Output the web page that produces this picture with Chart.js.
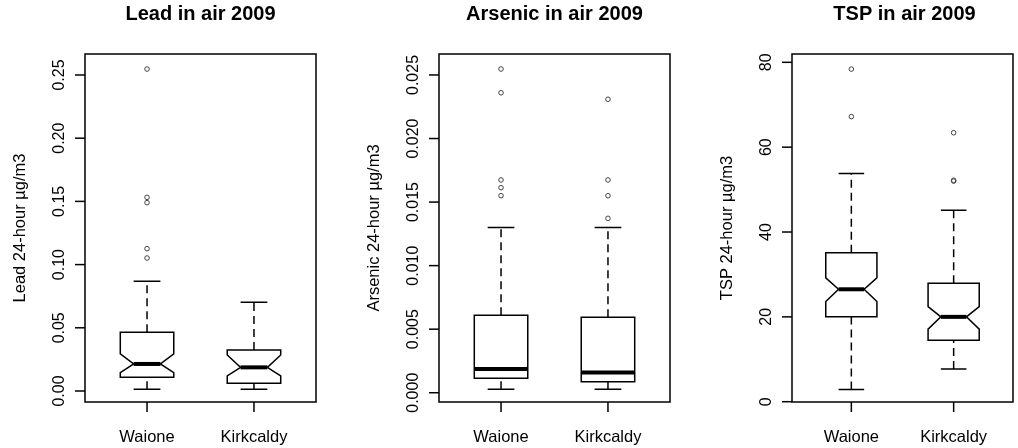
<!DOCTYPE html>
<html>
<head>
<meta charset="utf-8">
<script src="https://cdn.jsdelivr.net/npm/chart.js@4.4.0/dist/chart.umd.min.js"></script>
<style>
  body { margin: 0; background: #fff; width: 1018px; height: 448px; overflow: hidden; position: relative; }
  canvas { position: absolute; top: 0; }
</style>
</head>
<body>
<canvas id="lead" width="340" height="448" style="left:0"></canvas>
<canvas id="arsenic" width="340" height="448" style="left:340px"></canvas>
<canvas id="tsp" width="338" height="448" style="left:680px"></canvas>
<script>
const sites = ['Waione', 'Kirkcaldy'];

// Lead (µg/m3)
const leadLow = [0.0013, 0.0013];
const leadQ1 = [0.0108, 0.0061];
const leadMedian = [0.0214, 0.0187];
const leadQ3 = [0.0464, 0.0324];
const leadHigh = [0.0868, 0.0702];
const leadNotchLow = [0.0145, 0.012];
const leadNotchHigh = [0.0293, 0.0285];
const leadOutWaione = [0.1052, 0.1126, 0.149, 0.1532, 0.2547];
const leadOutKirkcaldy = [];
const leadTicks = [0, 0.05, 0.10, 0.15, 0.20, 0.25];
const leadTickLabels = ['0.00', '0.05', '0.10', '0.15', '0.20', '0.25'];

// Arsenic (µg/m3)
const arsLow = [0.00027, 0.00027];
const arsQ1 = [0.00113, 0.00087];
const arsMedian = [0.00187, 0.0016];
const arsQ3 = [0.0061, 0.00593];
const arsHigh = [0.013, 0.013];
const arsOutWaione = [0.0155, 0.01613, 0.01674, 0.0236, 0.02547];
const arsOutKirkcaldy = [0.01372, 0.0155, 0.01674, 0.02309];
const arsTicks = [0, 0.005, 0.010, 0.015, 0.020, 0.025];
const arsTickLabels = ['0.000', '0.005', '0.010', '0.015', '0.020', '0.025'];

// TSP (µg/m3)
const tspLow = [2.9, 7.7];
const tspQ1 = [20.0, 14.5];
const tspMedian = [26.5, 20.0];
const tspQ3 = [35.1, 27.9];
const tspHigh = [53.8, 45.1];
const tspNotchLow = [23.6, 17.1];
const tspNotchHigh = [29.2, 22.4];
const tspOutWaione = [67.2, 78.4];
const tspOutKirkcaldy = [52.0, 52.2, 63.4];
const tspTicks = [0, 20, 40, 60, 80];
const tspTickLabels = ['0', '20', '40', '60', '80'];

const FONT = '"Liberation Sans", Arial, sans-serif';
const BOX_HALF = 0.25;

const rBoxPlugin = {
  id: 'rBox',
  beforeDatasetsDraw(chart, args, opts) {
    const ctx = chart.ctx, xs = chart.scales.x, ys = chart.scales.y;
    const py = v => ys.getPixelForValue(v);
    ctx.save();
    ctx.strokeStyle = '#000';
    ctx.lineJoin = 'miter';
    sites.forEach((name, i) => {
      const cx = xs.getPixelForValue(i + 1);
      const hw = xs.getPixelForValue(i + 1 + BOX_HALF) - cx;
      // whiskers
      ctx.lineWidth = 1.5;
      ctx.setLineDash([8, 5]);
      ctx.beginPath();
      ctx.moveTo(cx, py(opts.low[i])); ctx.lineTo(cx, py(opts.q1[i]));
      ctx.moveTo(cx, py(opts.q3[i])); ctx.lineTo(cx, py(opts.high[i]));
      ctx.stroke();
      ctx.setLineDash([]);
      // staples
      ctx.beginPath();
      ctx.moveTo(cx - hw / 2, py(opts.low[i])); ctx.lineTo(cx + hw / 2, py(opts.low[i]));
      ctx.moveTo(cx - hw / 2, py(opts.high[i])); ctx.lineTo(cx + hw / 2, py(opts.high[i]));
      ctx.stroke();
      // box
      ctx.beginPath();
      if (opts.notchLow) {
        ctx.moveTo(cx - hw, py(opts.q1[i]));
        ctx.lineTo(cx - hw, py(opts.notchLow[i]));
        ctx.lineTo(cx - hw / 2, py(opts.median[i]));
        ctx.lineTo(cx - hw, py(opts.notchHigh[i]));
        ctx.lineTo(cx - hw, py(opts.q3[i]));
        ctx.lineTo(cx + hw, py(opts.q3[i]));
        ctx.lineTo(cx + hw, py(opts.notchHigh[i]));
        ctx.lineTo(cx + hw / 2, py(opts.median[i]));
        ctx.lineTo(cx + hw, py(opts.notchLow[i]));
        ctx.lineTo(cx + hw, py(opts.q1[i]));
        ctx.closePath();
      } else {
        ctx.rect(cx - hw, py(opts.q3[i]), 2 * hw, py(opts.q1[i]) - py(opts.q3[i]));
      }
      ctx.fillStyle = '#fff';
      ctx.fill();
      ctx.stroke();
      // median
      const mw = opts.notchLow ? hw / 2 : hw;
      ctx.lineWidth = 4;
      ctx.beginPath();
      ctx.moveTo(cx - mw, py(opts.median[i]));
      ctx.lineTo(cx + mw, py(opts.median[i]));
      ctx.stroke();
    });
    ctx.restore();
  },
  afterDraw(chart, args, opts) {
    const ctx = chart.ctx, xs = chart.scales.x, ys = chart.scales.y;
    const a = chart.chartArea;
    ctx.save();
    ctx.strokeStyle = '#000';
    ctx.fillStyle = '#000';
    ctx.lineWidth = 1.5;
    ctx.strokeRect(a.left, a.top, a.right - a.left, a.bottom - a.top);

    // y axis ticks and labels
    ctx.font = '16px ' + FONT;
    ctx.textAlign = 'center';
    ctx.textBaseline = 'middle';
    ys.ticks.forEach((t, k) => {
      const y = ys.getPixelForValue(t.value);
      ctx.beginPath();
      ctx.moveTo(a.left - 10, y); ctx.lineTo(a.left, y);
      ctx.stroke();
      ctx.save();
      ctx.translate(a.left - 25, y);
      ctx.rotate(-Math.PI / 2);
      ctx.fillText(opts.tickLabels[k], 0, 0);
      ctx.restore();
    });

    // y axis title
    ctx.save();
    ctx.font = '16.5px ' + FONT;
    ctx.translate(a.left - 65, (a.top + a.bottom) / 2);
    ctx.rotate(-Math.PI / 2);
    ctx.fillText(opts.yTitle, 0, 0);
    ctx.restore();

    // x axis ticks and category names
    ctx.font = '16.5px ' + FONT;
    ctx.textBaseline = 'alphabetic';
    sites.forEach((name, i) => {
      const x = xs.getPixelForValue(i + 1);
      ctx.beginPath();
      ctx.moveTo(x, a.bottom); ctx.lineTo(x, a.bottom + 10);
      ctx.stroke();
      ctx.fillText(name, x, a.bottom + 40);
    });
    ctx.restore();
  }
};

function makePanel(id, title, yTitle, yMin, yMax, ticks, tickLabels, stats, outliers, pad) {
  const datasets = outliers.map((vals, i) => ({
    data: vals.map(v => ({ x: i + 1, y: v })),
    pointRadius: 2.3,
    pointBorderWidth: 1,
    pointBorderColor: '#444',
    pointBackgroundColor: 'rgba(255,255,255,0)',
    showLine: false
  }));
  new Chart(document.getElementById(id), {
    type: 'scatter',
    data: { datasets: datasets },
    plugins: [rBoxPlugin],
    options: {
      responsive: false,
      animation: false,
      layout: { padding: pad },
      scales: {
        x: { type: 'linear', min: 0.42, max: 2.58, display: false },
        y: {
          type: 'linear', min: yMin, max: yMax, display: false,
          afterBuildTicks: s => { s.ticks = ticks.map(v => ({ value: v })); }
        }
      },
      plugins: {
        legend: { display: false },
        tooltip: { enabled: false },
        title: {
          display: true, text: title, color: '#000',
          font: { family: FONT, size: 20, weight: 'bold' },
          padding: { top: 2, bottom: 28 }
        },
        rBox: Object.assign({ yTitle: yTitle, tickLabels: tickLabels }, stats)
      }
    }
  });
}

makePanel('lead', 'Lead in air 2009', 'Lead 24-hour µg/m3', -0.0087, 0.2666, leadTicks, leadTickLabels,
  { low: leadLow, q1: leadQ1, median: leadMedian, q3: leadQ3, high: leadHigh, notchLow: leadNotchLow, notchHigh: leadNotchHigh },
  [leadOutWaione, leadOutKirkcaldy], { left: 85, right: 24, top: 0, bottom: 46 });

makePanel('arsenic', 'Arsenic in air 2009', 'Arsenic 24-hour µg/m3', -0.00073, 0.02665, arsTicks, arsTickLabels,
  { low: arsLow, q1: arsQ1, median: arsMedian, q3: arsQ3, high: arsHigh, notchLow: null, notchHigh: null },
  [arsOutWaione, arsOutKirkcaldy], { left: 99, right: 10, top: 0, bottom: 46 });

makePanel('tsp', 'TSP in air 2009', 'TSP 24-hour µg/m3', -0.07, 81.96, tspTicks, tspTickLabels,
  { low: tspLow, q1: tspQ1, median: tspMedian, q3: tspQ3, high: tspHigh, notchLow: tspNotchLow, notchHigh: tspNotchHigh },
  [tspOutWaione, tspOutKirkcaldy], { left: 112, right: 1, top: 0, bottom: 46 });
</script>
</body>
</html>
